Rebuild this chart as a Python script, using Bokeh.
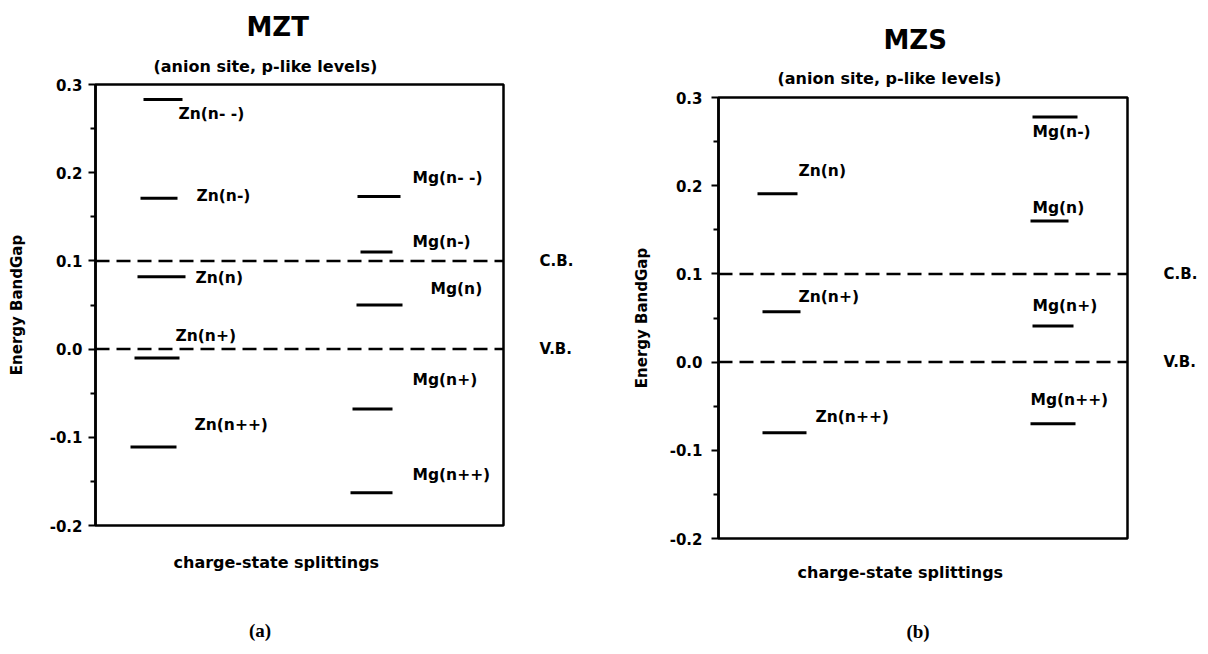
from bokeh.plotting import figure
from bokeh.layouts import row, column
from bokeh.models import (Range1d, FixedTicker, PrintfTickFormatter, Label,
                          LinearAxis, Title, Spacer, Div)
from bokeh.embed import file_html
from bokeh.resources import INLINE

# ---------------- data ----------------
y_ticks = [-0.2, -0.1, 0.0, 0.1, 0.2, 0.3]
y_minor = [-0.15, -0.05, 0.05, 0.15, 0.25]

band_names = ["C.B.", "V.B."]
band_levels = [0.1, 0.0]

mzt_zn_labels = ["Zn(n- -)", "Zn(n-)", "Zn(n)", "Zn(n+)", "Zn(n++)"]
mzt_zn_levels = [0.283, 0.171, 0.082, -0.010, -0.111]
mzt_mg_labels = ["Mg(n- -)", "Mg(n-)", "Mg(n)", "Mg(n+)", "Mg(n++)"]
mzt_mg_levels = [0.173, 0.110, 0.050, -0.068, -0.163]

mzs_zn_labels = ["Zn(n)", "Zn(n+)", "Zn(n++)"]
mzs_zn_levels = [0.191, 0.057, -0.080]
mzs_mg_labels = ["Mg(n-)", "Mg(n)", "Mg(n+)", "Mg(n++)"]
mzs_mg_levels = [0.278, 0.160, 0.041, -0.070]

# ---------------- layout (pixels inside each plot frame) ----------------
FONT = "DejaVu Sans"
PX_PER_UNIT = 882.0  # vertical pixels per energy unit

# bar horizontal extents, px from frame left
mzt_zn_bars = [(48, 87), (45, 82), (42, 90), (39, 84), (35, 81)]
mzt_mg_bars = [(262, 305), (265, 297), (261, 307), (257, 297), (255, 297)]
mzs_zn_bars = [(39, 79), (44, 82), (44, 88)]
mzs_mg_bars = [(314, 359), (312, 350), (314, 355), (312, 357)]

# label offsets (dx from bar right end, dy downwards) in px
mzt_zn_off = [(-4, 15), (19, -2), (10, 1), (-4, -22), (18, -22)]
mzt_mg_off = [(12, -19), (20, -10), (28, -16), (20, -29), (20, -18)]
mzs_zn_off = [(1, -23), (-2, -15), (9, -16)]
mzs_mg_off = [(-45, 15), (-36, -13), (-41, -20), (-45, -24)]


def bold_title(text, size, offset, standoff, font=FONT):
    return Title(text=text, align="left", offset=offset, standoff=standoff,
                 text_font=font, text_font_style="bold",
                 text_font_size=size, text_color="black")


def make_panel(title, levels_sets, fw, fh, bl, br, bt, bb,
               title_off, sub_off, xlab_off, standoff,
               ylab_standoff, sub_standoff, title_standoff, xlab_standoff):
    p = figure(width=bl + fw + br, height=bt + fh + bb, title=None,
               output_backend="svg", toolbar_location=None,
               x_range=Range1d(0, 1), y_range=Range1d(-0.2, 0.3),
               min_border_left=bl, min_border_right=br,
               min_border_top=bt, min_border_bottom=bb)
    p.xaxis.visible = False
    p.xgrid.visible = False
    p.ygrid.visible = False
    p.outline_line_color = "black"
    p.outline_line_width = 2.5
    p.background_fill_color = "white"
    p.border_fill_color = "white"

    ax = p.yaxis[0]
    ax.ticker = FixedTicker(ticks=y_ticks, minor_ticks=y_minor)
    ax.formatter = PrintfTickFormatter(format="%.1f")
    ax.axis_line_width = 2.5
    ax.major_tick_in = 0
    ax.major_tick_out = 7
    ax.minor_tick_in = 0
    ax.minor_tick_out = 5
    ax.major_tick_line_width = 2
    ax.minor_tick_line_width = 2
    ax.major_label_text_font = FONT
    ax.major_label_text_font_style = "bold"
    ax.major_label_text_font_size = "15px"
    ax.major_label_text_color = "black"
    ax.major_label_standoff = standoff
    ax.axis_label = "Energy BandGap"
    ax.axis_label_text_font = FONT
    ax.axis_label_text_font_style = "bold"
    ax.axis_label_text_font_size = "15px"
    ax.axis_label_text_color = "black"
    ax.axis_label_standoff = ylab_standoff

    # band-edge names on a right-hand axis
    bax = LinearAxis(ticker=FixedTicker(ticks=band_levels, minor_ticks=[]),
                     major_label_overrides={lv: nm for lv, nm in zip(band_levels, band_names)},
                     axis_line_color=None, major_tick_line_color=None,
                     minor_tick_line_color=None, major_label_standoff=30,
                     major_label_text_font=FONT,
                     major_label_text_font_style="bold",
                     major_label_text_font_size="15px",
                     major_label_text_color="black")
    p.add_layout(bax, "right")

    def dx(px):
        return px / fw

    def dy(py):
        return py / PX_PER_UNIT

    # band edges (dashed)
    p.segment(x0=[0] * len(band_levels), x1=[1] * len(band_levels),
              y0=band_levels, y1=band_levels,
              line_color="black", line_width=2.5, line_dash="14 7")

    for labels, levels, bars, offs in levels_sets:
        x0 = [dx(b[0]) for b in bars]
        x1 = [dx(b[1]) for b in bars]
        p.segment(x0=x0, x1=x1, y0=levels, y1=levels,
                  line_color="black", line_width=3)
        for lab, lev, b, o in zip(labels, levels, bars, offs):
            p.add_layout(Label(x=dx(b[1] + o[0]), y=lev - dy(o[1]), text=lab,
                               text_font=FONT, text_font_style="bold",
                               text_font_size="15.5px", text_color="black",
                               text_baseline="middle", text_align="left"))

    # titles above (first added is closest to frame)
    p.add_layout(bold_title("(anion site, p-like levels)", "16px", sub_off, sub_standoff), "above")
    p.add_layout(bold_title(title, "26px", title_off, title_standoff), "above")
    # x label below
    p.add_layout(bold_title("charge-state splittings", "16px", xlab_off, xlab_standoff), "below")
    return p


def tag_div(text, left_margin, top_margin):
    return Div(text=text, width=40, height=24,
               margin=(top_margin, 0, 0, left_margin),
               styles={"font-family": "Liberation Serif", "font-size": "19px",
                       "font-weight": "bold", "line-height": "24px",
                       "text-align": "center", "color": "black"})


# left panel: frame at page x 95..503, y 84..525
left = make_panel(
    "MZT",
    [(mzt_zn_labels, mzt_zn_levels, mzt_zn_bars, mzt_zn_off),
     (mzt_mg_labels, mzt_mg_levels, mzt_mg_bars, mzt_mg_off)],
    fw=408, fh=441, bl=95, br=107, bt=84, bb=72,
    title_off=151, sub_off=58, xlab_off=78, standoff=6, ylab_standoff=21,
    sub_standoff=17, title_standoff=10, xlab_standoff=51)

# right panel: frame at page x 718..1127, y 97..538
right = make_panel(
    "MZS",
    [(mzs_zn_labels, mzs_zn_levels, mzs_zn_bars, mzs_zn_off),
     (mzs_mg_labels, mzs_mg_levels, mzs_mg_bars, mzs_mg_off)],
    fw=409, fh=441, bl=108, br=75, bt=84, bb=66,
    title_off=165, sub_off=59, xlab_off=79, standoff=9, ylab_standoff=16,
    sub_standoff=19, title_standoff=6, xlab_standoff=45)

left_col = column(left, tag_div("(a)", 240, 22))
right_col = column(Spacer(width=10, height=13), right, tag_div("(b)", 288, 16))
layout = row(left_col, right_col)
open("out.html", "w").write(file_html(layout, INLINE))
